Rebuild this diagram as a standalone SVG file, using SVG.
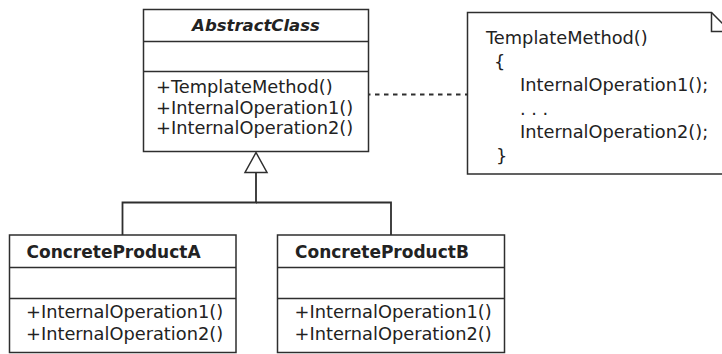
<svg xmlns="http://www.w3.org/2000/svg" width="722" height="354" viewBox="0 0 722 354">
  <style>
    .box { fill: #ffffff; stroke: #2e2e2e; stroke-width: 1.5; }
    .div { stroke: #2e2e2e; stroke-width: 1.5; fill: none; }
    .conn { stroke: #2e2e2e; stroke-width: 1.8; fill: none; }
    .dash { stroke: #2e2e2e; stroke-width: 1.8; fill: none; stroke-dasharray: 4.5 4.5; }
    .t { font-family: "DejaVu Sans", "Liberation Sans", sans-serif; font-size: 17.8px; fill: #222222; }
    .title { font-family: "DejaVu Sans", "Liberation Sans", sans-serif; font-size: 17px; font-weight: bold; fill: #222222; }
    .ititle { font-family: "DejaVu Sans", "Liberation Sans", sans-serif; font-size: 16.5px; font-weight: bold; font-style: italic; fill: #222222; }
  </style>
  <rect width="722" height="354" fill="#ffffff"/>

  <g id="connectors">
    <line class="dash" x1="357" y1="94.5" x2="467" y2="94.5"/>
    <polyline class="conn" points="256,172.5 256,202.5 122.5,202.5 122.5,235"/>
    <polyline class="conn" points="256,202.5 391,202.5 391,235"/>
    <polygon points="256,152.5 245,172.5 267,172.5" fill="#ffffff" stroke="#2e2e2e" stroke-width="1.5"/>
  </g>

  <g id="AbstractClass">
    <rect class="box" x="143.5" y="9.5" width="225" height="142"/>
    <line class="div" x1="143.5" y1="41.5" x2="368.5" y2="41.5"/>
    <line class="div" x1="143.5" y1="71.5" x2="368.5" y2="71.5"/>
    <text class="ititle" x="256" y="31" text-anchor="middle">AbstractClass</text>
    <text class="t" x="156" y="93.3">+TemplateMethod()</text>
    <text class="t" x="156" y="113.6">+InternalOperation1()</text>
    <text class="t" x="156" y="134">+InternalOperation2()</text>
  </g>

  <g id="Note">
    <path class="box" d="M467.5,12.5 H711.5 L731,32 V174 H467.5 Z"/>
    <polyline class="div" points="711.5,12.5 711.5,31.5 731,31.5"/>
    <text class="t" x="486" y="43.5">TemplateMethod()</text>
    <text class="t" x="494" y="67.5">{</text>
    <text class="t" x="520" y="91">InternalOperation1();</text>
    <text class="t" x="520" y="114.5">. . .</text>
    <text class="t" x="520" y="138">InternalOperation2();</text>
    <text class="t" x="496" y="162">}</text>
  </g>

  <g id="ConcreteProductA">
    <rect class="box" x="9.5" y="235" width="226.5" height="117.5"/>
    <line class="div" x1="9.5" y1="267.5" x2="236" y2="267.5"/>
    <line class="div" x1="9.5" y1="298.5" x2="236" y2="298.5"/>
    <text class="title" x="26.5" y="258">ConcreteProductA</text>
    <text class="t" x="26" y="318.3">+InternalOperation1()</text>
    <text class="t" x="26" y="339.8">+InternalOperation2()</text>
  </g>

  <g id="ConcreteProductB">
    <rect class="box" x="277.5" y="235" width="227" height="117.5"/>
    <line class="div" x1="277.5" y1="267.5" x2="504.5" y2="267.5"/>
    <line class="div" x1="277.5" y1="298.5" x2="504.5" y2="298.5"/>
    <text class="title" x="295" y="258">ConcreteProductB</text>
    <text class="t" x="294.5" y="318.3">+InternalOperation1()</text>
    <text class="t" x="294.5" y="339.8">+InternalOperation2()</text>
  </g>
</svg>
